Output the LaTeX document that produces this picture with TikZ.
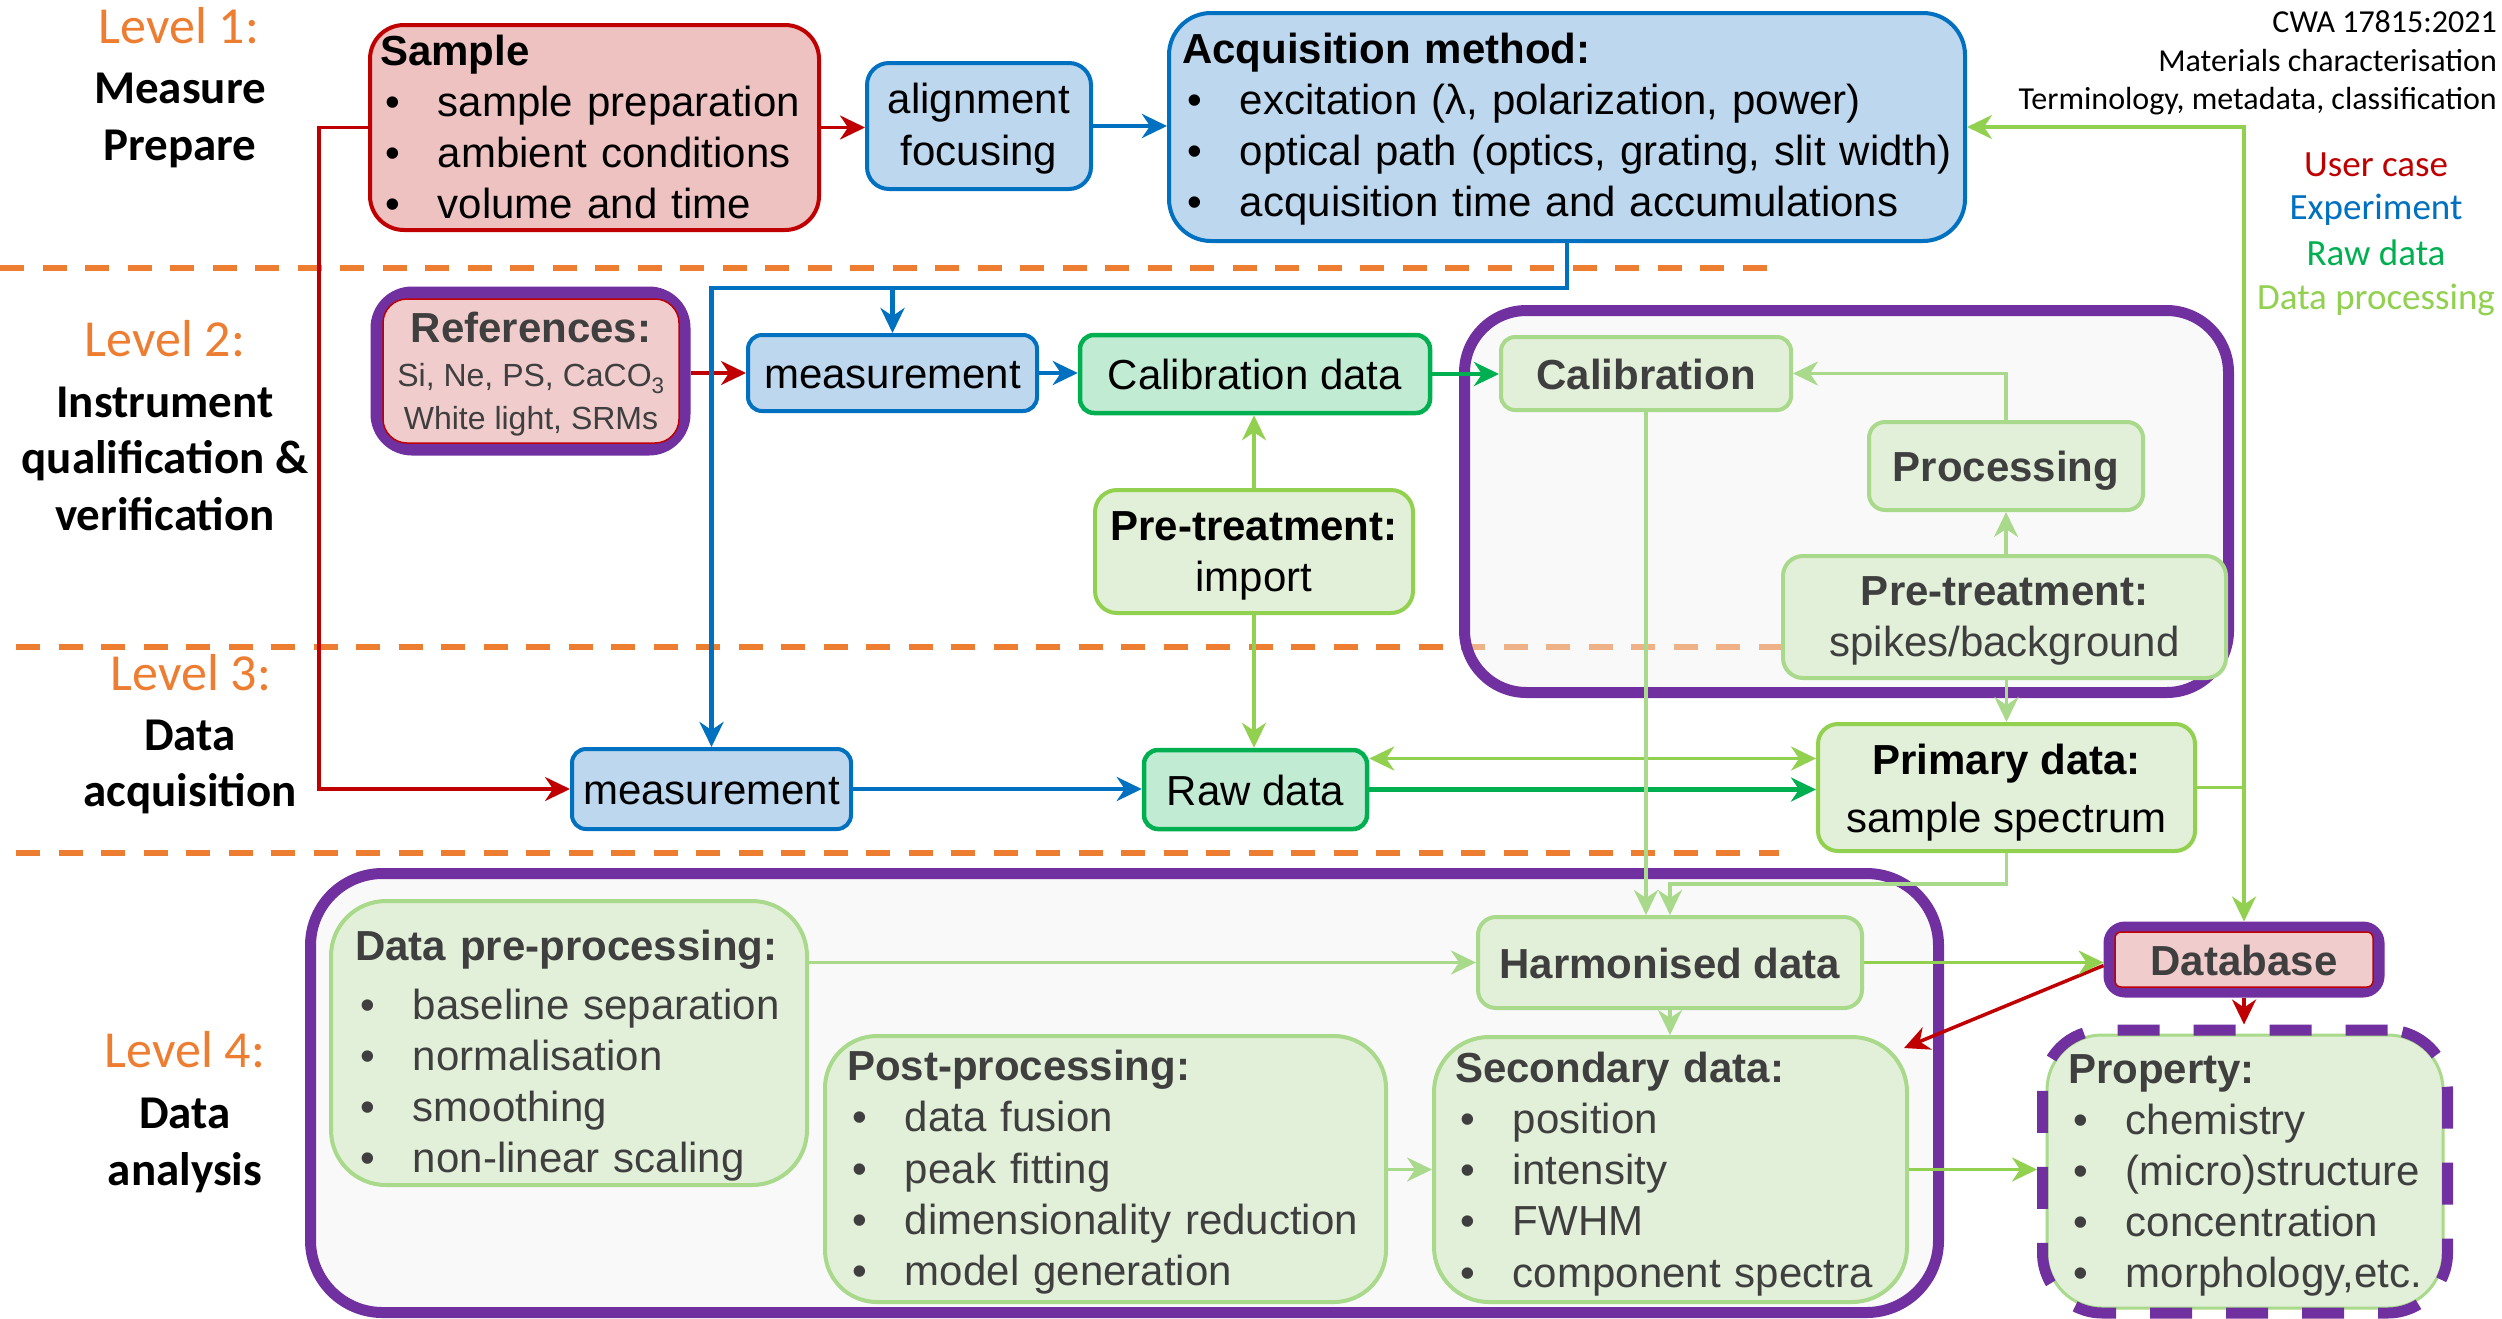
\documentclass[tikz,border=0pt]{standalone}
\usepackage{fontspec}
\setmainfont{Liberation Sans}
\newfontfamily\calfont{Carlito}
\usetikzlibrary{arrows.meta}

\definecolor{ucred}{HTML}{C00000}
\definecolor{ucfill}{HTML}{EFC2C2}
\definecolor{reffill}{HTML}{F0CCCC}
\definecolor{expblue}{HTML}{0070C0}
\definecolor{expfill}{HTML}{BDD7EE}
\definecolor{rawgreen}{HTML}{00B050}
\definecolor{rawfill}{HTML}{C2EBD4}
\definecolor{procgreen}{HTML}{92D050}
\definecolor{procsoft}{HTML}{A9D98A}
\definecolor{procfill}{HTML}{E2F0D9}
\definecolor{grpviolet}{HTML}{7030A0}
\definecolor{lvlorange}{HTML}{ED7D31}
\definecolor{txtgray}{HTML}{3F3F3F}
\definecolor{grpfill}{HTML}{F2F2F2}

% bullet followed by a hanging gap, as in the slide lists
\newcommand{\itemdot}{\makebox[58pt][l]{\hspace{5pt}•}}
% invisible struts that fix the height of a text block
\newcommand{\topstrut}[1]{\rule{0pt}{#1pt}}
\newcommand{\botstrut}{\rule[-12pt]{0pt}{12pt}}
\newcommand{\lowstrut}{\rule[-14pt]{0pt}{14pt}}

\tikzset{
  ucbox/.style={draw=ucred, fill=ucfill, line width=4pt},
  expbox/.style={draw=expblue, fill=expfill, line width=4pt},
  rawbox/.style={draw=rawgreen, fill=rawfill, line width=4.5pt},
  procbox/.style={draw=procgreen, fill=procfill, line width=4pt},
  softbox/.style={draw=procsoft, fill=procfill, line width=4pt, text=txtgray},
  oneline/.style={text height=31pt, text depth=0pt},
  grpframe/.style={draw=grpviolet, line width=11pt, fill=grpfill, fill opacity=0.45},
  lvltitle/.style={font=\calfont\fontsize{52}{60}\selectfont, text=lvlorange, anchor=base},
  lvltext/.style={font=\calfont\bfseries\fontsize{47}{56.7}\selectfont, align=center},
  legend/.style={font=\calfont\fontsize{37}{45}\selectfont},
  levelsep/.style={draw=lvlorange, line width=6pt, dash pattern=on 24pt off 18.5pt},
  redcon/.style={draw=ucred, line width=3.5pt, ->},
  bluecon/.style={draw=expblue, line width=4.5pt, ->},
  gcon/.style={draw=rawgreen, line width=4.5pt, ->},
  lgcon/.style={draw=procgreen, line width=3.5pt, ->},
  sgcon/.style={draw=procsoft, line width=3.5pt, ->},
}

\begin{document}
\begin{tikzpicture}[x=1pt, y=1pt, every node/.style={inner sep=0pt},
  font=\fontsize{42}{51.2}\selectfont,
  >={Stealth[length=25pt, width=24pt, inset=8pt]}]

\fill[white] (0,0) rectangle (2502,-1318);
\useasboundingbox (0,0) rectangle (2502,-1318);

% level separators
\draw[levelsep] (0,-268) -- (1771,-268);
\draw[levelsep] (16,-647) -- (1783,-647);
\draw[levelsep] (16,-853) -- (1779,-853);

% groups
\node[grpframe, rounded corners=62pt, minimum width=764pt, minimum height=382pt] (calgroup) at (1846.5,-501.5) {};
\node[grpframe, rounded corners=72pt, minimum width=1628pt, minimum height=439pt] (anagroup) at (1124.5,-1093) {};

% level labels
\node[lvltitle] (lv1) at (179,-43.3) {Level 1:};
\node[lvltext] (lv1d) at (180,-118.65) {\topstrut{40}Measure\\Prepare\lowstrut};
\node[lvltitle] (lv2) at (165,-356.7) {Level 2:};
\node[lvltext] (lv2d) at (165,-460.7) {\topstrut{40}Instrument\\qualification \&\\verification\lowstrut};
\node[lvltitle] (lv3) at (191,-690) {Level 3:};
\node[lvltext] (lv3d) at (190,-765.55) {\topstrut{40}Data\\acquisition\lowstrut};
\node[lvltitle] (lv4) at (185,-1067.9) {Level 4:};
\node[lvltext] (lv4d) at (185,-1144.3) {\topstrut{40}Data\\analysis\lowstrut};

% header and legend
\node[anchor=east, align=right, font=\calfont\fontsize{32}{38.5}\selectfont] (cwa) at (2497,-63)
  {CWA 17815:2021\\Materials characterisation\\Terminology, metadata, classification};
\node[legend, text=ucred] (lgu) at (2376,-165) {User case};
\node[legend, text=expblue] (lge) at (2376,-210) {Experiment};
\node[legend, text=rawgreen] (lgr) at (2376,-253) {Raw data};
\node[legend, text=procgreen] (lgp) at (2376,-300) {Data processing};

% level 1
\node[ucbox, rounded corners=34pt, text width=429pt, inner xsep=10pt, minimum height=203pt, align=left, font=\fontsize{42}{51}\selectfont] (sample) at (594.5,-127.5)
  {\topstrut{40}\textbf{Sample}\\ \itemdot sample preparation\\ \itemdot ambient conditions\\ \itemdot volume and time\botstrut};
\node[expbox, rounded corners=22pt, minimum width=224pt, minimum height=126pt, align=center, font=\fontsize{42}{52.4}\selectfont] (focus) at (979,-126)
  {\topstrut{39}alignment\\focusing\botstrut};
\node[expbox, rounded corners=42pt, text width=770pt, inner xsep=13pt, minimum height=228pt, align=left] (acq) at (1567,-127)
  {\topstrut{38.2}\textbf{Acquisition method:}\\ \itemdot excitation (λ, polarization, power)\\ \itemdot optical path (optics, grating, slit width)\\ \itemdot acquisition time and accumulations\botstrut};

% level 2
\node[draw=grpviolet, fill=grpviolet, line width=11pt, rounded corners=36pt, minimum width=309pt, minimum height=158pt] (refframe) at (530.5,-371) {};
\node[draw=ucred, line width=1.5pt, fill=reffill, rounded corners=24pt, minimum width=296pt, minimum height=144pt,
  text=txtgray, align=center, font=\fontsize{32}{43}\selectfont] (refs) at (531,-371)
  {\topstrut{42}{\fontsize{42}{44}\selectfont\bfseries References:}\\[1pt] Si, Ne, PS, CaCO\textsubscript{3}\\ White light, SRMs\botstrut};
\node[expbox, oneline, rounded corners=14pt, minimum width=289pt, minimum height=76pt] (meas2) at (892.5,-373) {measurement};
\node[rawbox, oneline, rounded corners=14pt, minimum width=350pt, minimum height=78pt] (caldata) at (1255,-374) {Calibration data};
\node[procbox, rounded corners=22pt, minimum width=318pt, minimum height=123pt, align=center, font=\fontsize{42}{51.7}\selectfont] (pretimp) at (1254,-551.5)
  {\topstrut{40.7}\textbf{Pre-treatment:}\\ import\botstrut};
\node[softbox, oneline, rounded corners=14pt, minimum width=290pt, minimum height=73pt] (cal) at (1646,-373.5) {\textbf{Calibration}};
\node[softbox, oneline, rounded corners=16pt, minimum width=274pt, minimum height=88pt] (proc) at (2006,-466) {\textbf{Processing}};
\node[softbox, rounded corners=20pt, minimum width=443pt, minimum height=122pt, align=center, font=\fontsize{42}{51.7}\selectfont] (pretspk) at (2004.5,-617)
  {\topstrut{39.7}\textbf{Pre-treatment:}\\ spikes/background\botstrut};

% level 3
\node[expbox, oneline, rounded corners=14pt, minimum width=279pt, minimum height=80pt] (meas3) at (711.5,-789) {measurement};
\node[rawbox, oneline, rounded corners=14pt, minimum width=223pt, minimum height=79pt] (raw) at (1255.5,-789.5) {Raw data};
\node[procbox, rounded corners=20pt, minimum width=377pt, minimum height=127pt, align=center, font=\fontsize{42}{51.5}\selectfont] (prim) at (2006.5,-787.5)
  {\topstrut{43}\textbf{Primary data:}\\[6.5pt] sample spectrum\botstrut};

% level 4
\node[softbox, rounded corners=55pt, text width=428pt, inner xsep=24pt, minimum height=284pt, align=left] (dpre) at (569,-1043)
  {\topstrut{58.9}\textbf{Data pre-processing:}\\[8.1pt] \itemdot baseline separation\\ \itemdot normalisation\\ \itemdot smoothing\\ \itemdot non-linear scaling\botstrut};
\node[softbox, rounded corners=52pt, text width=517pt, inner xsep=22pt, minimum height=266pt, align=left] (post) at (1105.5,-1169)
  {\topstrut{40}\textbf{Post-processing:}\\ \itemdot data fusion\\ \itemdot peak fitting\\ \itemdot dimensionality reduction\\ \itemdot model generation\botstrut};
\node[softbox, oneline, rounded corners=18pt, minimum width=384pt, minimum height=91pt] (harm) at (1670,-962.5) {\textbf{Harmonised data}};
\node[softbox, rounded corners=55pt, text width=431pt, inner xsep=21pt, minimum height=265pt, align=left] (sec) at (1670.5,-1169.5)
  {\topstrut{42.4}\textbf{Secondary data:}\\ \itemdot position\\ \itemdot intensity\\ \itemdot FWHM\\ \itemdot component spectra\botstrut};
\node[draw=grpviolet, fill=grpviolet, line width=11pt, rounded corners=16pt, minimum width=270pt, minimum height=65pt] (dbframe) at (2244,-959.5) {};
\node[draw=ucred, oneline, line width=1.5pt, fill=reffill, rounded corners=6pt, minimum width=258pt, minimum height=55pt, text=txtgray] (db) at (2244,-959.5) {\textbf{Database}};
\node[softbox, line width=3pt, rounded corners=55pt, text width=354pt, inner xsep=21pt, minimum height=273pt, align=left] (prop) at (2245,-1171.5)
  {\topstrut{39.8}\textbf{Property:}\\ \itemdot chemistry\\ \itemdot (micro)structure\\ \itemdot concentration\\ \itemdot morphology,etc.\botstrut};
\node[draw=grpviolet, line width=11pt, dash pattern=on 42pt off 34pt, rounded corners=60pt, minimum width=405pt, minimum height=283pt] (propframe) at (2245,-1171.5) {};

% connectors: user case
\draw[redcon] (sample.west) -- ++(-49pt,0) |- (meas3.west);
\draw[redcon] (sample.east) -- (sample.east -| focus.west);
\draw[redcon] (refframe.east |- meas2.west) -- (meas2.west);
\draw[redcon] ([yshift=-6pt]dbframe.west) -- ([xshift=-5pt,yshift=-13pt]sec.north east);
\draw[redcon] (dbframe.south) -- (dbframe.south |- propframe.north);

% connectors: experiment
\coordinate (bus) at (0,-288);
\draw[bluecon] (focus.east) -- (focus.east -| acq.west);
\draw[bluecon] (acq.south) |- (bus -| meas3.north) -- (meas3.north);
\draw[bluecon] (bus -| meas2.north) -- (meas2.north);
\draw[bluecon] (meas2.east) -- (meas2.east -| caldata.west);
\draw[bluecon] (meas3.east) -- (meas3.east -| raw.west);

% connectors: raw data
\draw[gcon] (caldata.east) -- (caldata.east -| cal.west);
\draw[gcon] (raw.east) -- (raw.east -| prim.west);

% connectors: data processing
\draw[lgcon] (pretimp.north) -- (pretimp.north |- caldata.south);
\draw[lgcon] (pretimp.south) -- (pretimp.south |- raw.north);
\draw[lgcon, <->] ([yshift=31pt]raw.east) -- ([yshift=31pt]raw.east -| prim.west);
\draw[sgcon] (prim.north |- pretspk.south) -- (prim.north);
\draw[sgcon] (proc.south |- pretspk.north) -- (proc.south);
\draw[sgcon] (proc.north) |- (cal.east);
\draw[sgcon] (cal.south) -- (cal.south |- harm.north);
\draw[sgcon] (prim.south) -- ++(0,-31pt) -| (harm.north);
\draw[lgcon] (prim.east) -| (dbframe.north);
\draw[lgcon] (prim.east -| dbframe.north) |- (acq.east);
\draw[lgcon] (harm.east) -- (harm.east -| dbframe.west);
\draw[sgcon] (dpre.east |- harm.west) -- (harm.west);
\draw[sgcon] (harm.south) -- (harm.south |- sec.north);
\draw[sgcon] (post.east |- sec.west) -- (sec.west);
\draw[lgcon] (sec.east) -- (sec.east -| propframe.west);

\end{tikzpicture}
\end{document}
